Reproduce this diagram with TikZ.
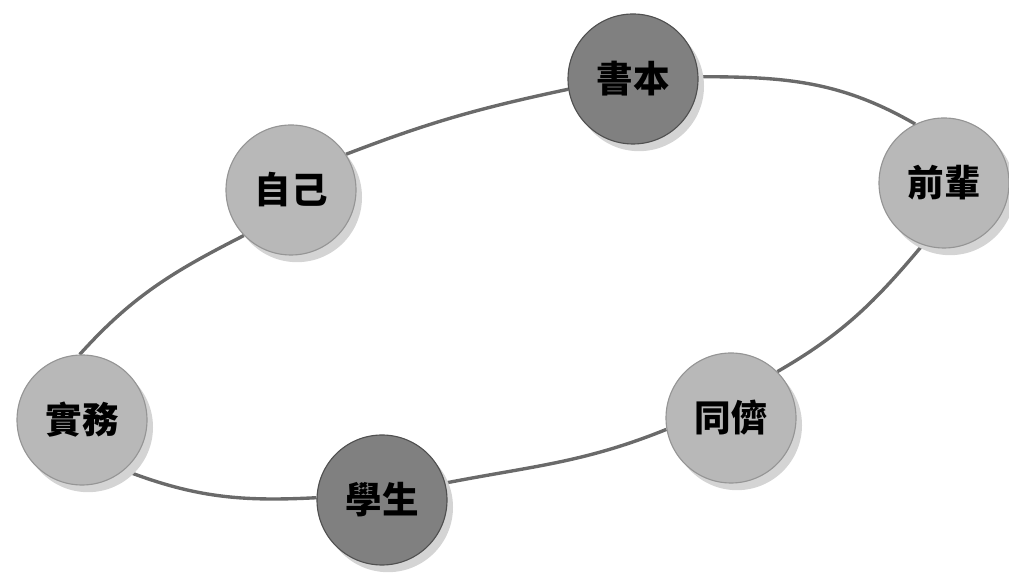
\documentclass[tikz,border=0pt]{standalone}
\usepackage{fontspec}
\newfontfamily\cjk{Noto Sans CJK TC}
\usetikzlibrary{shadows,backgrounds}
\definecolor{ballgray}{HTML}{B8B8B8}
\definecolor{balldark}{HTML}{808080}
\definecolor{rimgray}{HTML}{959595}
\definecolor{rimdark}{HTML}{505050}
\definecolor{ringgray}{HTML}{6A6A6A}
\definecolor{shadegray}{HTML}{D4D4D4}
\tikzset{
  ball/.style={circle, minimum size=3.25cm, inner sep=0pt, fill=ballgray, draw=rimgray, line width=0.8pt,
    drop shadow={shadow xshift=0.15cm, shadow yshift=-0.18cm, fill=shadegray, opacity=1},
    font=\cjk\bfseries\fontsize{26}{26}\selectfont},
  darkball/.style={ball, fill=balldark, draw=rimdark},
  ring/.style={draw=ringgray, line width=2.4pt}
}

\begin{document}
\begin{tikzpicture}
\useasboundingbox (0,0) rectangle (25.225,14.325);
% the six balls
\node[darkball] (book) at (15.825,12.35) {書本};
\node[ball] (senior) at (23.6,9.75) {前輩};
\node[ball] (peer) at (18.275,3.875) {同儕};
\node[darkball] (student) at (9.55,1.825) {學生};
\node[ball] (practice) at (2.05,3.825) {實務};
\node[ball] (self) at (7.275,9.575) {自己};
% the ring, behind the balls
\begin{scope}[on background layer]
  \draw[ring] (book.189) to[out=192,in=21] (self.33);
  \draw[ring] (self.224) to[out=207,in=48] (practice.92);
  \draw[ring] (practice.310) to[out=339,in=183] (student.178);
  \draw[ring] (student.15) to[out=11,in=202] (peer.190);
  \draw[ring] (peer.45) to[out=30,in=230] (senior.251);
  \draw[ring] (senior.116) to[out=150,in=0] (book.2);
\end{scope}
\end{tikzpicture}
\end{document}
